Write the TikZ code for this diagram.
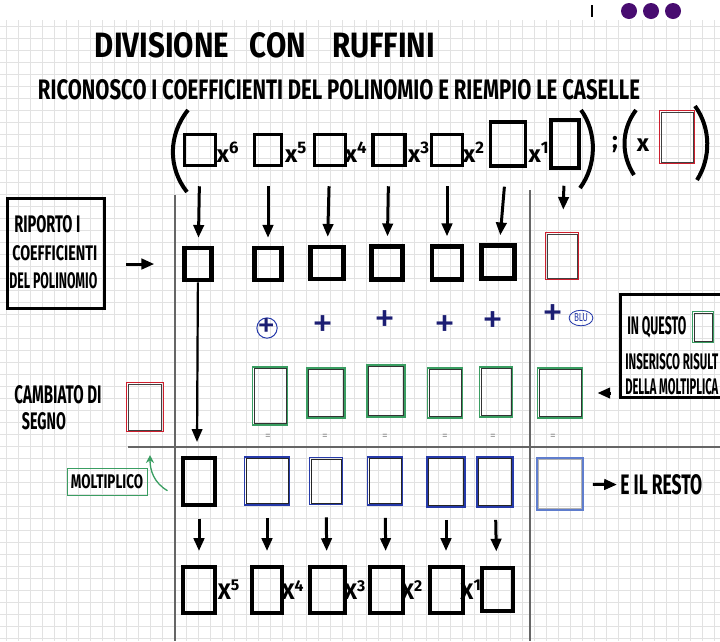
\documentclass[tikz,border=0pt]{standalone}
\usepackage{fontspec}
\setmainfont{Fira Sans}
\usepackage{graphicx}
\usetikzlibrary{positioning,arrows.meta,calc,shapes.geometric}

\definecolor{verde}{RGB}{58,158,98}
\definecolor{blu}{RGB}{38,58,170}
\definecolor{azzurro}{RGB}{95,125,205}
\definecolor{rosso}{RGB}{205,30,45}
\definecolor{viola}{RGB}{72,12,112}
\definecolor{inchiostro}{RGB}{28,30,115}
\definecolor{griglia}{RGB}{226,226,226}

\newlength\pxu
\setlength\pxu{0.025cm}
\newcommand{\hw}[3]{\resizebox{#1\pxu}{#2\pxu}{\bfseries #3}}

\begin{document}
\begin{tikzpicture}[x=0.025cm,y=-0.025cm,>={Triangle[length=3.2mm,width=2.6mm]},
  sz/.style 2 args={minimum width=#1\pxu,minimum height=#2\pxu},
  dentro/.style={path picture={\draw[#1,line width=0.45pt]
    ([xshift=1.2pt,yshift=-1.2pt]path picture bounding box.north west) rectangle
    ([xshift=-1.2pt,yshift=1.2pt]path picture bounding box.south east);}},
  cas/.style={draw,line width=4\pxu,inner sep=0pt},
  casv/.style={draw=verde,line width=1.3pt,inner sep=0pt,dentro=black!80},
  casb/.style={draw=blu,line width=1.3pt,inner sep=0pt,dentro=black!85},
  casr/.style={draw=rosso,line width=1.1pt,inner sep=0pt,dentro=black!75},
  freccia/.style={->,line width=3\pxu},
  linea/.style={black!60,line width=1.2\pxu},
  esp/.style={font=\bfseries\fontsize{17}{17}\selectfont,inner sep=0pt},
  espg/.style={font=\bfseries\fontsize{16}{16}\selectfont,inner sep=0pt},
  piu/.style={text=inchiostro,font=\fontsize{30}{30}\selectfont,inner sep=0pt},
  uguale/.style={text=black!45,font=\fontsize{8}{8}\selectfont,inner sep=0pt},
  scritta/.style={inner sep=0pt}]
\useasboundingbox (0,0) rectangle (720,641);
\clip (0,0) rectangle (720,641);
\fill[white] (0,0) rectangle (720,641);
% quadretti
\foreach \gx in {6,18,...,714} \draw[griglia] (\gx,20) -- (\gx,641);
\foreach \gy in {26,38,...,638} \draw[griglia] (0,\gy) -- (720,\gy);
% intestazione
\draw[line width=1.5\pxu] (592,5) -- (592,17);
\foreach \px in {629,651,673} \fill[viola] (\px,11) circle[radius=8\pxu];

\node[scritta] (titolo) at (265,45) {\hw{340}{25}{DIVISIONE\hspace{0.7em}CON\hspace{0.9em}RUFFINI}};
\node[scritta] (sottotitolo) at (339,90) {\hw{602}{20}{RICONOSCO I COEFFICIENTI DEL POLINOMIO E RIEMPIO LE CASELLE}};

% polinomio
\draw[line width=4\pxu] (188,110) .. controls (168,135) and (168,168) .. (187,192);
\draw[line width=4\pxu] (581,110) .. controls (597,132) and (597,165) .. (580,188);
\draw[line width=4\pxu] (636,110) .. controls (621,130) and (621,155) .. (634,175);
\draw[line width=4\pxu] (695,106) .. controls (711,128) and (711,158) .. (697,180);
\foreach \n/\cx/\cy/\w/\h in {1/200/150/31/31,2/268/150/27/31,3/330/150/31/31,4/389/150/32/31,5/447/150/31/31,6/508/144/35/44,7/565/144/28/48}
  \node[cas,line width=3.5\pxu,sz={\w}{\h}] (t\n) at (\cx,\cy) {};
\foreach \n/\cx/\e in {6/228/6,5/296/5,4/356/4,3/419/3,2/474/2,1/539/1}
  \node[esp] (x\n) at (\cx,152) {x\textsuperscript{\e}};
\node[esp] (pv) at (615,145) {;};
\node[esp] (xd) at (643,145) {x};
\node[casr,sz={35}{53}] (div) at (677,137) {};

% righe di separazione
\draw[linea] (175,195) -- (175,641);
\draw[linea] (530,190) -- (530,641);
\draw[linea] (128,447) -- (720,447);

% coefficienti
\node[draw,line width=3\pxu,sz={97}{110}] (riporto) at (56,253) {};
\node[scritta,anchor=west] (rip1) at (14,224) {\hw{66}{17}{RIPORTO I}};
\node[scritta,anchor=west] (rip2) at (12,253) {\hw{85}{15}{COEFFICIENTI}};
\node[scritta,anchor=west] (rip3) at (9,281) {\hw{88}{16}{DEL POLINOMIO}};
\foreach \n/\cx/\cy/\w/\h in {1/198/264/27/32,2/268/264/27/32,3/327/263/33/32,4/387/263/31/33,5/447/263/30/33,6/498/262/33/33}
  \node[cas,line width=4.5\pxu,sz={\w}{\h}] (c\n) at (\cx,\cy) {};
\node[casr,sz={33}{47}] (c7) at (562,256) {};
\foreach \n in {1,...,6}
  \draw[freccia,shorten <=19\pxu,shorten >=8\pxu] (t\n) -- (c\n);
\draw[freccia,shorten <=16\pxu,shorten >=22\pxu] (t7) -- (c7);
\draw[freccia,shorten <=20\pxu,shorten >=28\pxu] (riporto.east |- c1) -- (c1);

% somme
\node[piu,font=\fontsize{26}{26}\selectfont,draw=blu,circle,line width=0.7pt,inner sep=-1.5pt] (p2) at (267,328) {+};
\foreach \n/\cx/\cy in {3/323/327,4/385/322,5/445/327,6/493/323,7/553/316}
  \node[piu] (p\n) at (\cx,\cy) {+};
\node[draw=blu,ellipse,line width=0.6pt,inner sep=1pt,text=blu] (blu) at (581,318) {\resizebox{14\pxu}{8\pxu}{BLU}};

% prodotti
\foreach \n/\cx/\cy/\w/\h in {2/270/396/35/58,3/326/393/38/50,4/386/391/38/52,5/445/393/35/50,6/496/392/33/50,7/560/393/45/50}
  \node[casv,sz={\w}{\h}] (g\n) at (\cx,\cy) {};
\foreach \cx in {268,325,385,445,493,553}
  \node[uguale] (u\cx) at (\cx,437) {=};
\node[draw,line width=3\pxu,sz={122}{103}] (inquesto) at (681,346) {};
\node[scritta,anchor=west] (iq1) at (627,327) {\hw{59}{18}{IN QUESTO}};
\node[casv,sz={21}{31}] (gpiccola) at (703,327) {};
\node[scritta,anchor=west] (iq2) at (625,362) {\hw{93}{16}{INSERISCO RISULT}};
\node[scritta,anchor=west] (iq3) at (625,387) {\hw{93}{16}{DELLA MOLTIPLICA}};
\draw[freccia,shorten <=8\pxu,shorten >=14\pxu] (inquesto.west |- g7) -- (g7);

% segno cambiato
\node[scritta] (camb1) at (58,395) {\hw{87}{18}{CAMBIATO DI}};
\node[scritta] (camb2) at (44,421) {\hw{44}{17}{SEGNO}};
\node[casr,sz={37}{49}] (cambio) at (145,407) {};
\coordinate (fondo) at (197,442);
\draw[freccia,line width=2.2\pxu] (c1) -- (fondo);

% quoziente e resto
\node[draw=verde,line width=0.7pt,inner xsep=4\pxu,inner ysep=6\pxu] (moltiplico) at (107,482) {\hw{72}{14}{MOLTIPLICO}};
\coordinate (punta) at (150,455);
\draw[verde,line width=1.3\pxu,-{Stealth[length=2mm,width=2mm]}] ([shift={(20,-5)}]moltiplico.south east) to[out=150,in=-90] (punta);
\node[cas,sz={32}{47}] (q1) at (199,481) {};
\foreach \n/\cx/\cy/\w/\h in {2/267/481/45/48,3/326/481/33/47,4/385/481/35/48,5/446/482/38/50,6/495/482/36/50}
  \node[casb,sz={\w}{\h}] (q\n) at (\cx,\cy) {};
\node[draw=azzurro,line width=1.2pt,inner sep=0pt,dentro=black!30,sz={46}{52}] (q7) at (560,484) {};
\node[scritta,anchor=west] (resto) at (620,485) {\hw{82}{20}{E IL RESTO}};
\draw[freccia,shorten <=9\pxu,shorten >=3\pxu] (q7) -- (resto);

% risultato
\foreach \n/\cx/\cy/\w/\h in {1/199/590/32/46,2/267/590/30/46,3/327/590/35/46,4/386/590/33/46,5/446/590/33/46,6/497/589/31/43}
  \node[cas,sz={\w}{\h}] (b\n) at (\cx,\cy) {};
\foreach \n in {1,...,6}
  \draw[freccia,shorten <=12\pxu,shorten >=14\pxu] (q\n) -- (b\n);
\foreach \n/\cx/\e in {5/229/5,4/293/4,3/355/3,2/412/2,1/471/1}
  \node[espg] (y\n) at (\cx,590) {X\textsuperscript{\e}};
\end{tikzpicture}
\end{document}
